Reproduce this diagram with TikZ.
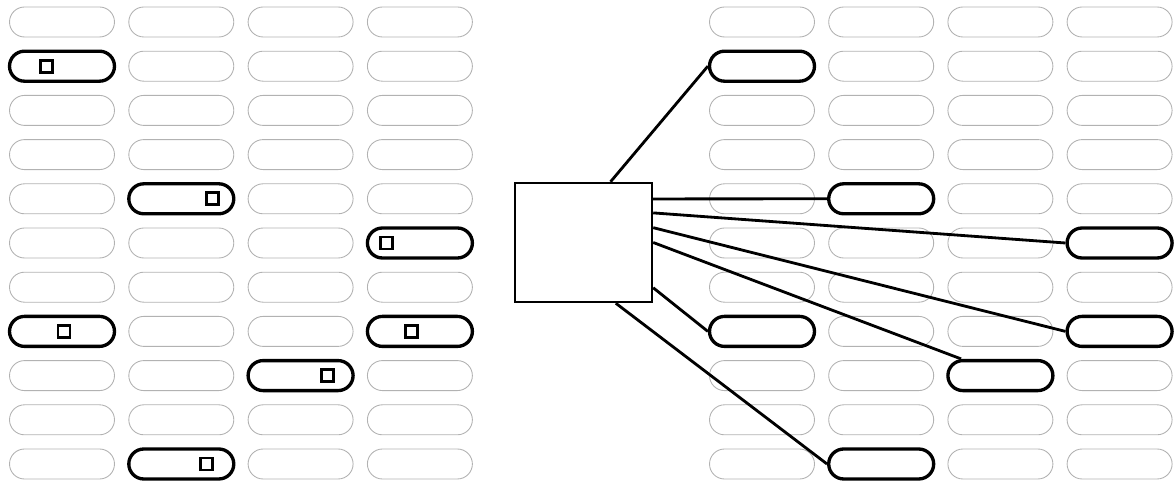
\documentclass[tikz,border=0pt]{standalone}
\usetikzlibrary{positioning}

\tikzset{
  slot/.style={draw=black!30, line width=0.5pt, rounded corners=0.3cm,
    minimum width=2.1cm, minimum height=0.6cm, inner sep=0pt},
  slotused/.style={slot, draw=black, line width=1.9pt},
  marker/.style={draw=black, line width=1.6pt, minimum size=0.24cm, inner sep=0pt},
  hub/.style={draw=black, line width=1.4pt, minimum width=2.74cm, minimum height=2.38cm, inner sep=0pt},
  link/.style={line width=1.6pt}
}

\begin{document}
\begin{tikzpicture}[x=0.02cm, y=-0.02cm]
    \useasboundingbox (0,0) rectangle (1174,482);

    % two grids of empty slots
    \foreach \r in {1,...,11} {
        \foreach \c in {1,...,4} {
            \node[slot] (L-\r-\c) at ({62+119.3*(\c-1)}, {22+44.2*(\r-1)}) {};
            \node[slot] (R-\r-\c) at ({762+119.2*(\c-1)}, {22+44.2*(\r-1)}) {};
        }
    }

    % occupied slots on the left, each with its marker
    \foreach \r/\c/\dx in {2/1/-15.5, 5/2/31, 6/4/-33, 8/1/2, 8/4/-8, 9/3/27, 11/2/25} {
        \node[slotused] at (L-\r-\c) {};
        \node[marker] at ([xshift=\dx*0.02cm]L-\r-\c.center) {};
    }

    % occupied slots on the right
    \foreach \r/\c in {2/1, 5/2, 6/4, 8/1, 8/4, 9/3, 11/2}
        \node[slotused] (U-\r-\c) at (R-\r-\c) {};

    \node[hub] (hub) at (583.5,242.5) {};

    \draw[link] (hub.66)  -- (U-2-1.west);
    \draw[link] (hub.32.4) -- (U-5-2.west);
    \draw[link] (hub.23.3) -- (U-6-4.west);
    \draw[link] (hub.12)  -- (U-8-4.west);
    \draw[link] (hub.0)   -- (U-9-3.157);
    \draw[link] (hub.-33) -- (U-8-1.west);
    \draw[link] (hub.-62) -- (U-11-2.west);
\end{tikzpicture}
\end{document}
